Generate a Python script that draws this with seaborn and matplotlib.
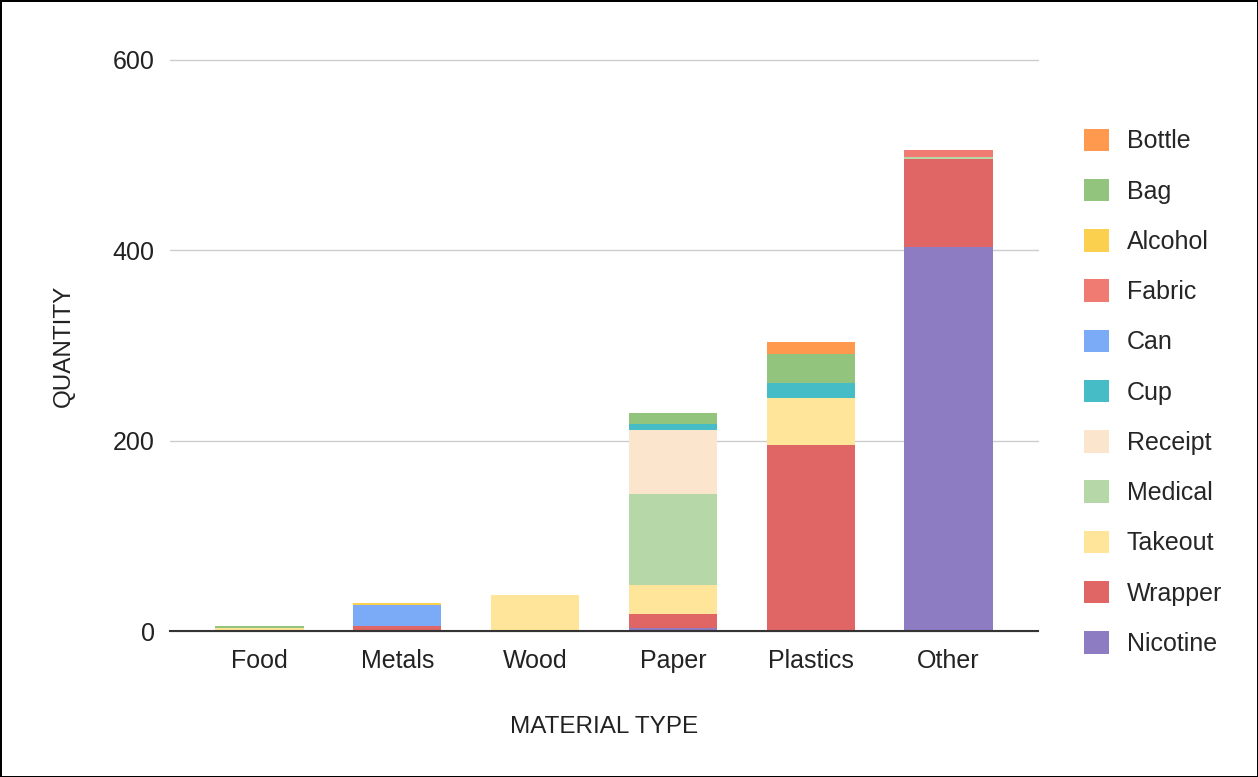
import pandas as pd
import seaborn as sns
import matplotlib.pyplot as plt

# categories along x, and item types (legend order, top of stack first)
MATERIALS = ['Food', 'Metals', 'Wood', 'Paper', 'Plastics', 'Other']
ITEMS = ['Bottle', 'Bag', 'Alcohol', 'Fabric', 'Can', 'Cup',
         'Receipt', 'Medical', 'Takeout', 'Wrapper', 'Nicotine']
COLORS = ['#FF994D', '#93C47D', '#FCD04F', '#F07B72', '#7BAAF7', '#46BDC6',
          '#FCE5CD', '#B6D7A8', '#FFE599', '#E06666', '#8E7CC3']

# quantities per item, one value per material
BOTTLE   = [0, 0, 0, 0, 13, 0]
BAG      = [2, 0, 0, 11, 30, 0]
ALCOHOL  = [0, 2, 0, 0, 0, 0]
FABRIC   = [0, 0, 0, 0, 0, 7]
CAN      = [0, 22, 0, 0, 0, 0]
CUP      = [0, 0, 0, 7, 16, 0]
RECEIPT  = [0, 0, 0, 67, 0, 0]
MEDICAL  = [0, 0, 0, 96, 0, 2]
TAKEOUT  = [3, 0, 38, 30, 50, 0]
WRAPPER  = [0, 5, 0, 15, 195, 92]
NICOTINE = [0, 0, 0, 3, 0, 404]

series = [BOTTLE, BAG, ALCOHOL, FABRIC, CAN, CUP,
          RECEIPT, MEDICAL, TAKEOUT, WRAPPER, NICOTINE]

rows = []
for item, vals in zip(ITEMS, series):
    for mat, v in zip(MATERIALS, vals):
        rows.append({'material': mat, 'item': item, 'qty': v})
df = pd.DataFrame(rows)
df['material'] = pd.Categorical(df['material'], categories=MATERIALS, ordered=True)

sns.set_style('white')
plt.rcParams['font.family'] = ['Liberation Sans', 'DejaVu Sans']

fig = plt.figure(figsize=(12.58, 7.77), dpi=100, edgecolor='black', linewidth=2)
ax = fig.add_axes([0.1351, 0.1879, 0.69, 0.7349])

sns.histplot(
    data=df, x='material', weights='qty', hue='item',
    hue_order=ITEMS, palette=COLORS, multiple='stack',
    discrete=True, shrink=0.64, alpha=1, linewidth=0, ax=ax
)

ax.set_xlim(-0.65, 5.65)
ax.set_ylim(0, 600)
ax.set_yticks([0, 200, 400, 600])
ax.yaxis.grid(True, color='#CCCCCC', linewidth=1)
ax.set_axisbelow(True)
for gl in ax.get_ygridlines():
    gl.set_clip_on(False)
for side in ['top', 'right', 'left']:
    ax.spines[side].set_visible(False)
ax.spines['bottom'].set_color('#333333')
ax.spines['bottom'].set_linewidth(1.5)
ax.tick_params(axis='both', length=0, labelsize=18, colors='#222222')
ax.tick_params(axis='x', pad=13)
ax.tick_params(axis='y', pad=11)

ax.set_xlabel('MATERIAL TYPE', fontsize=17.5, color='#222222', labelpad=31)
ax.set_ylabel('QUANTITY', fontsize=17.5, color='#222222', labelpad=27)

sns.move_legend(
    ax, 'center left', bbox_to_anchor=(1.027, 0.418), frameon=False,
    title=None, fontsize=18, labelspacing=1.02, handlelength=1.0,
    handleheight=1.0, handletextpad=0.72
)

fig.savefig('out.png', dpi=100)
